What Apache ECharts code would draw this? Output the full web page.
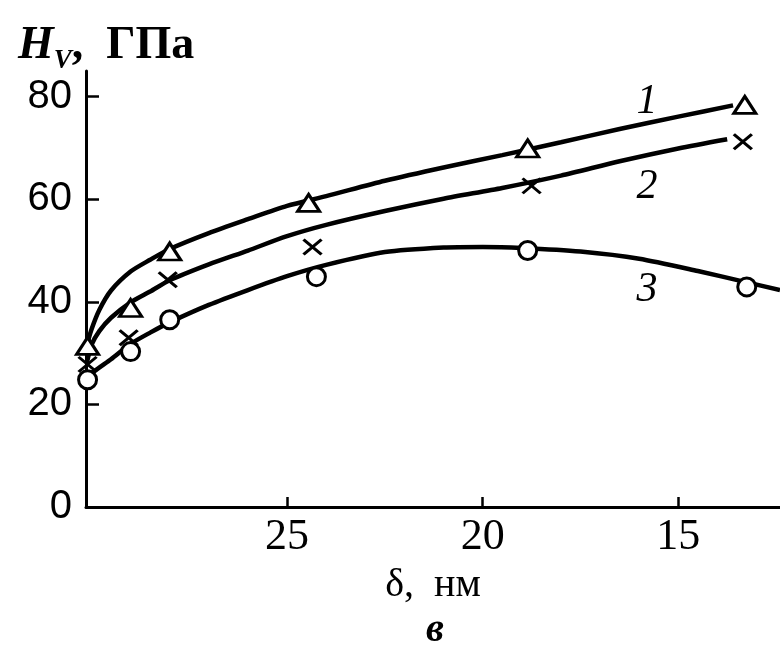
<!DOCTYPE html>
<html>
<head>
<meta charset="utf-8">
<script src="https://cdn.jsdelivr.net/npm/echarts@6/dist/echarts.min.js"></script>
<style>
html,body{margin:0;padding:0;background:#fff;}
#chart{width:780px;height:647px;}
</style>
</head>
<body>
<div id="chart"></div>
<script>
// measured points (δ, nm ; H_V, GPa)
const delta1 = [30.1, 29.0, 28.0, 24.45, 18.85, 13.3];
const hv1    = [31.4, 38.8, 49.8, 59.3, 69.9, 78.4];
const delta2 = [30.1, 29.05, 28.05, 24.35, 18.75, 13.35];
const hv2    = [27.8, 33.0, 44.3, 50.7, 62.6, 71.2];
const delta3 = [30.1, 29.0, 28.0, 24.25, 18.85, 13.25];
const hv3    = [24.8, 30.3, 36.5, 44.9, 50.0, 42.9];

// fitted curves
const curve1Delta = [30.12, 30.0, 29.8, 29.5, 29.0, 28.5, 28.0, 27.0, 26.0, 25.0, 24.0, 22.5, 21.0, 19.5, 18.0, 16.5, 15.0, 13.6];
const curve1Hv    = [31.5, 34.6, 38.4, 42.2, 45.9, 48.2, 50.3, 53.4, 56.1, 58.7, 60.6, 63.6, 66.2, 68.6, 71.1, 73.7, 76.1, 78.3];
const curve2Delta = [30.12, 30.0, 29.8, 29.5, 29.0, 28.5, 28.0, 27.0, 26.0, 25.0, 24.0, 22.5, 21.0, 19.5, 18.0, 16.5, 15.0, 13.75];
const curve2Hv    = [28.0, 31.6, 34.3, 36.9, 39.9, 42.0, 44.2, 47.3, 50.0, 52.8, 55.0, 57.7, 60.1, 62.2, 64.6, 67.4, 69.9, 71.7];
const curve3Delta = [30.12, 30.0, 29.5, 29.0, 28.5, 28.0, 27.0, 26.0, 25.0, 24.0, 22.5, 21.0, 20.0, 19.0, 17.5, 16.0, 14.5, 13.3, 12.4];
const curve3Hv    = [24.5, 26.0, 28.8, 31.8, 34.0, 36.0, 39.4, 42.3, 45.0, 47.2, 49.7, 50.6, 50.7, 50.5, 49.8, 48.4, 46.0, 43.9, 42.3];

// curve labels
const labelText  = ['1', '2', '3'];
const labelDelta = [15.8, 15.8, 15.8];
const labelHv    = [79.0, 62.4, 42.3];

// axis ticks
const yTicks = [0, 20, 40, 60, 80];
const xTicks = [15, 20, 25];

const zip = (a, b) => a.map((v, i) => [v, b[i]]);

const chart = echarts.init(document.getElementById('chart'), null, {renderer: 'canvas'});
const black = '#000';
const serif = 'Liberation Serif';

const curveSeries = (d, h) => ({
  type: 'line', data: zip(d, h), smooth: 0.25, showSymbol: false, symbol: 'none',
  lineStyle: {color: black, width: 4.5, opacity: 1}, z: 2, silent: true
});
const pointStyle = {color: '#fff', borderColor: black, borderWidth: 3, opacity: 1};

chart.setOption({
  backgroundColor: '#fff',
  animation: false,
  title: [{
    text: '{h|H}{v|V}{t|,  ГПа}',
    left: 13, top: 12,
    textStyle: {
      rich: {
        h: {fontFamily: serif, fontStyle: 'italic', fontWeight: 'bold', fontSize: 46, color: black},
        v: {fontFamily: serif, fontStyle: 'italic', fontSize: 27, color: black, verticalAlign: 'bottom', lineHeight: 58},
        t: {fontFamily: serif, fontWeight: 'bold', fontSize: 46, color: black}
      }
    }
  }, {
    text: 'в', left: 421, top: 606,
    textStyle: {fontFamily: serif, fontStyle: 'italic', fontWeight: 'bold', fontSize: 40, color: black}
  }],
  grid: {left: 86, right: 0, top: 71, bottom: 140, containLabel: false},
  xAxis: {
    type: 'value', inverse: true, min: 12.4, max: 30.14,
    name: 'δ,  нм', nameLocation: 'middle', nameGap: 58,
    nameTextStyle: {fontFamily: serif, fontSize: 40, color: black},
    axisLine: {show: true, onZero: false, lineStyle: {color: black, width: 3}},
    axisTick: {show: true, inside: true, length: 10, customValues: xTicks, lineStyle: {color: black, width: 2.5}},
    axisLabel: {show: true, customValues: xTicks, fontFamily: serif, fontSize: 44, color: black, margin: 8},
    splitLine: {show: false}
  },
  yAxis: {
    type: 'value', min: 0, max: 85,
    axisLine: {show: true, onZero: false, lineStyle: {color: black, width: 3}},
    axisTick: {show: true, inside: true, length: 13, customValues: yTicks, lineStyle: {color: black, width: 2.5}},
    axisLabel: {show: true, customValues: yTicks, fontFamily: 'Liberation Sans', fontSize: 40, color: black, margin: 14},
    splitLine: {show: false}
  },
  series: [
    curveSeries(curve1Delta, curve1Hv),
    curveSeries(curve2Delta, curve2Hv),
    curveSeries(curve3Delta, curve3Hv),
    {type: 'scatter', data: zip(delta1, hv1), symbol: 'triangle', symbolSize: [22, 17], itemStyle: pointStyle, z: 5},
    {type: 'scatter', data: zip(delta2, hv2), symbol: 'path://M0,0L10,10M10,0L0,10', symbolSize: [18, 15],
      itemStyle: {color: 'none', borderColor: black, borderWidth: 3, opacity: 1}, z: 5},
    {type: 'scatter', data: zip(delta3, hv3), symbol: 'circle', symbolSize: 18, itemStyle: pointStyle, z: 5},
    {type: 'scatter', symbolSize: 0, z: 6, silent: true,
      itemStyle: {opacity: 1},
      data: labelText.map((t, i) => ({name: t, value: [labelDelta[i], labelHv[i]]})),
      label: {show: true, position: 'inside', formatter: '{b}', fontFamily: serif, fontStyle: 'italic', fontSize: 42, color: black, opacity: 1}
    }
  ]
});
</script>
</body>
</html>
